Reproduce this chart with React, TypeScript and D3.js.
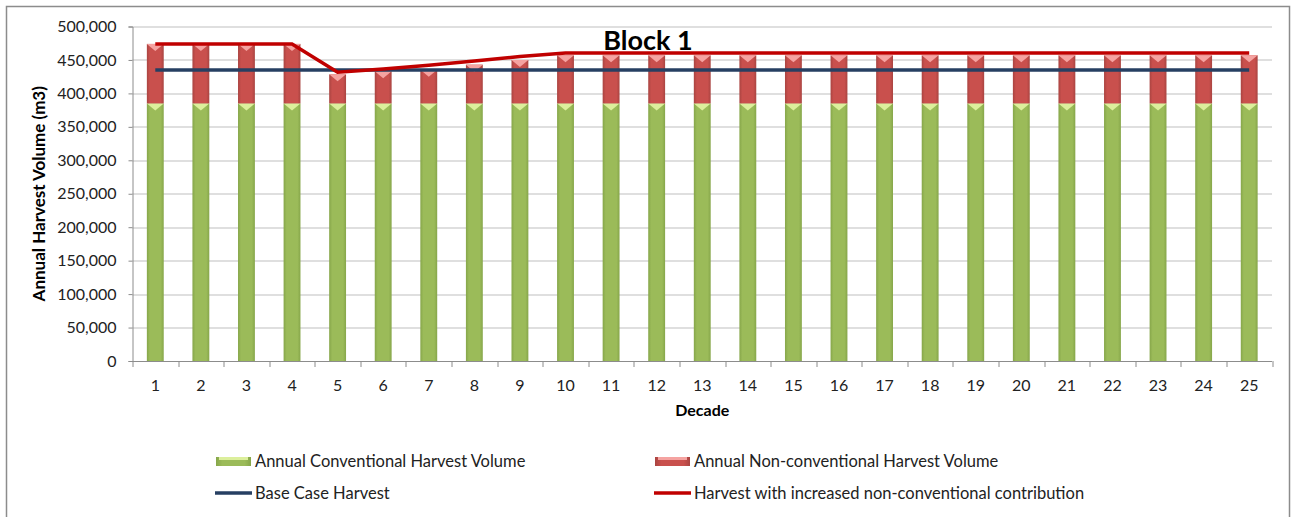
import { useEffect, useRef } from 'react';
import * as d3 from 'd3';

const decades = ['1', '2', '3', '4', '5', '6', '7', '8', '9', '10', '11', '12', '13', '14', '15', '16', '17', '18', '19', '20', '21', '22', '23', '24', '25'];
const conventional = [385000, 385000, 385000, 385000, 385000, 385000, 385000, 385000, 385000, 385000, 385000, 385000, 385000, 385000, 385000, 385000, 385000, 385000, 385000, 385000, 385000, 385000, 385000, 385000, 385000];
const nonConventional = [89000, 89000, 89000, 89000, 43500, 48000, 50500, 58000, 65000, 72000, 72000, 72000, 72000, 72000, 72000, 72000, 72000, 72000, 72000, 72000, 72000, 72000, 72000, 72000, 72000];
const baseCase = [435000, 435000, 435000, 435000, 435000, 435000, 435000, 435000, 435000, 435000, 435000, 435000, 435000, 435000, 435000, 435000, 435000, 435000, 435000, 435000, 435000, 435000, 435000, 435000, 435000];
const increased = [474000, 474000, 474000, 474000, 431500, 436500, 442000, 448500, 455000, 460500, 460500, 460500, 460500, 460500, 460500, 460500, 460500, 460500, 460500, 460500, 460500, 460500, 460500, 460500, 460500];
const yTicks = [0, 50000, 100000, 150000, 200000, 250000, 300000, 350000, 400000, 450000, 500000];

const FONT = 'Lato, "Open Sans", sans-serif';

export default function App() {
  const svgRef = useRef<SVGSVGElement>(null);

  useEffect(() => {
    const W = 1291;
    const H = 517;
    const margin = { top: 26.5, right: 19, bottom: 156, left: 132.5 };
    const width = W - margin.left - margin.right;
    const height = H - margin.top - margin.bottom;

    const root = d3.select(svgRef.current);
    root.selectAll('*').remove();

    const defs = root.append('defs');
    const grad = (id, edge, mid) => {
      const g = defs.append('linearGradient').attr('id', id).attr('x1', 0).attr('x2', 1).attr('y1', 0).attr('y2', 0);
      g.append('stop').attr('offset', '0%').attr('stop-color', edge);
      g.append('stop').attr('offset', '18%').attr('stop-color', mid);
      g.append('stop').attr('offset', '82%').attr('stop-color', mid);
      g.append('stop').attr('offset', '100%').attr('stop-color', edge);
    };
    grad('gGreen', '#86a64a', '#9bbb59');
    grad('gRed', '#a94441', '#c9504d');

    // outer chart border (bottom edge runs past the picture)
    root.append('rect')
      .attr('x', 6.5).attr('y', 6.5)
      .attr('width', 1283).attr('height', H + 10)
      .attr('fill', '#fff')
      .attr('stroke', '#8c8c8c')
      .attr('stroke-width', 1.5);

    const svg = root.append('g').attr('transform', `translate(${margin.left},${margin.top})`);

    const x = d3.scaleBand().domain(decades).range([0, width]).paddingInner(0.63).paddingOuter(0.315);
    const y = d3.scaleLinear().domain([0, 500000]).range([height, 0]);
    const xc = (i) => x(decades[i]) + x.bandwidth() / 2;

    // gridlines
    svg.append('g')
      .selectAll('line')
      .data(yTicks.slice(1))
      .join('line')
      .attr('x1', 0).attr('x2', width)
      .attr('y1', d => Math.round(y(d)) + 0.5).attr('y2', d => Math.round(y(d)) + 0.5)
      .attr('stroke', '#bfbfbf').attr('stroke-width', 1);

    // y axis
    const yAxis = svg.append('g')
      .call(d3.axisLeft(y).tickValues(yTicks).tickSize(4).tickFormat(d3.format(',')));
    yAxis.select('.domain').attr('stroke', '#8c8c8c');
    yAxis.selectAll('.tick line').attr('stroke', '#8c8c8c');
    yAxis.selectAll('text')
      .attr('x', -16)
      .style('font-family', FONT).style('font-size', '16px').attr('fill', '#222');

    // x axis, ticks between categories
    const xAxis = svg.append('g').attr('transform', `translate(0,${height})`);
    xAxis.append('line').attr('x1', 0).attr('x2', width).attr('y1', 0.5).attr('y2', 0.5).attr('stroke', '#8c8c8c');
    const step = x.step();
    xAxis.selectAll('line.tk')
      .data(d3.range(decades.length + 1))
      .join('line')
      .attr('class', 'tk')
      .attr('x1', i => Math.round(i * step) + 0.5).attr('x2', i => Math.round(i * step) + 0.5)
      .attr('y1', 0).attr('y2', 6)
      .attr('stroke', '#8c8c8c');
    xAxis.selectAll('text')
      .data(decades)
      .join('text')
      .attr('x', (d, i) => xc(i))
      .attr('y', 30)
      .attr('text-anchor', 'middle')
      .style('font-family', FONT).style('font-size', '16px').attr('fill', '#222')
      .text(d => d);

    // stacked bars
    const drawSeg = (vals, base, fill, light) => {
      const g = svg.append('g');
      vals.forEach((v, i) => {
        const b = base ? base[i] : 0;
        const x0 = x(decades[i]);
        const w = x.bandwidth();
        const top = y(b + v);
        const bot = y(b);
        g.append('rect')
          .attr('x', x0).attr('y', top)
          .attr('width', w).attr('height', bot - top)
          .attr('fill', fill);
        g.append('path')
          .attr('d', `M${x0},${top}L${x0 + w},${top}L${x0 + w / 2},${top + 7}Z`)
          .attr('fill', light);
      });
    };
    drawSeg(conventional, null, 'url(#gGreen)', '#dcef9c');
    drawSeg(nonConventional, conventional, 'url(#gRed)', '#f5a3a1');

    // lines
    const line = d3.line<number>().x((d, i) => xc(i)).y(d => y(d));
    svg.append('path')
      .datum(baseCase)
      .attr('d', line)
      .attr('fill', 'none')
      .attr('stroke', '#263f62')
      .attr('stroke-width', 3.5);
    svg.append('path')
      .datum(increased)
      .attr('d', line)
      .attr('fill', 'none')
      .attr('stroke', '#c00000')
      .attr('stroke-width', 3.5);

    // title
    root.append('text')
      .attr('x', 648).attr('y', 50)
      .attr('text-anchor', 'middle')
      .style('font-family', FONT).style('font-size', '27px').style('font-weight', 'bold')
      .attr('fill', '#000')
      .text('Block 1');

    // axis titles
    root.append('text')
      .attr('transform', `translate(45,${margin.top + height / 2}) rotate(-90)`)
      .attr('text-anchor', 'middle')
      .style('font-family', FONT).style('font-size', '17px').style('font-weight', 'bold')
      .attr('fill', '#000')
      .text('Annual Harvest Volume (m3)');
    root.append('text')
      .attr('x', margin.left + width / 2).attr('y', 416)
      .attr('text-anchor', 'middle')
      .style('font-family', FONT).style('font-size', '16px').style('font-weight', 'bold')
      .attr('fill', '#000')
      .text('Decade');

    // legend
    const legend = [
      { label: 'Annual Conventional Harvest Volume', type: 'bar', fill: 'url(#gGreen)', light: '#dcef9c', x: 216, y: 461 },
      { label: 'Annual Non-conventional Harvest Volume', type: 'bar', fill: 'url(#gRed)', light: '#f5a3a1', x: 655, y: 461 },
      { label: 'Base Case Harvest', type: 'line', color: '#263f62', x: 216, y: 493 },
      { label: 'Harvest with increased non-conventional contribution', type: 'line', color: '#c00000', x: 655, y: 493 },
    ];
    const lg = root.append('g');
    legend.forEach(l => {
      if (l.type === 'bar') {
        lg.append('rect').attr('x', l.x).attr('y', l.y - 4).attr('width', 35).attr('height', 9).attr('fill', l.fill);
        lg.append('rect').attr('x', l.x + 3).attr('y', l.y - 4).attr('width', 29).attr('height', 3).attr('fill', l.light);
      } else {
        lg.append('line').attr('x1', l.x - 1).attr('x2', l.x + 36).attr('y1', l.y).attr('y2', l.y)
          .attr('stroke', l.color).attr('stroke-width', 3.5);
      }
      lg.append('text')
        .attr('x', l.x + 39).attr('y', l.y + 6)
        .style('font-family', FONT).style('font-size', '16.5px')
        .attr('fill', '#222')
        .text(l.label);
    });
  }, []);

  return (
    <svg
      ref={svgRef}
      width={1291}
      height={517}
      style={{ position: 'absolute', left: 0, top: 0, display: 'block' }}
    ></svg>
  );
}
